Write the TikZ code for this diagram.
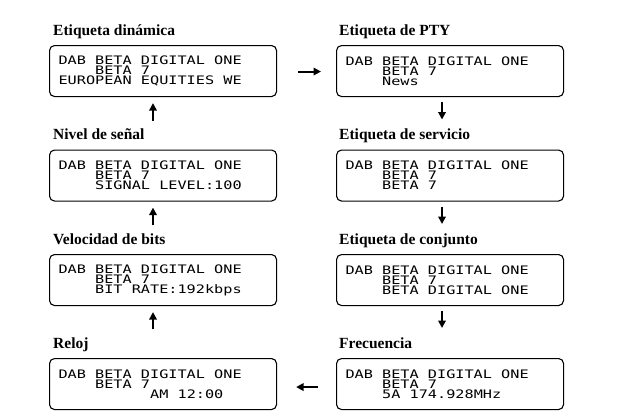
\documentclass[tikz,border=0pt]{standalone}
\usepackage{fontspec}
\setmainfont{Liberation Serif}
\newfontfamily\lcdfont[FakeStretch=1.3]{DejaVu Sans Mono}
\usetikzlibrary{arrows.meta,calc}
% blank columns on the display
\newcommand\cols[1]{\hphantom{#1}}
% one blank column between words
\newcommand\blank{\hphantom{0}}
\begin{document}
\begin{tikzpicture}[x=1pt,y=-1pt,
  lcd/.style={draw, line width=1.1pt, rounded corners=5pt, anchor=north west,
    minimum width=227pt, minimum height=51pt, text width=209pt,
    inner xsep=9pt, inner ysep=0pt, align=left,
    font=\lcdfont\fontsize{11.7}{10}\selectfont},
  heading/.style={anchor=base west, inner sep=0pt,
    font=\bfseries\fontsize{15.5}{18}\selectfont},
  flow/.style={-{Triangle[length=7.5pt,width=7.5pt]}, line width=2pt}]
\useasboundingbox (0,0) rectangle (617,415);

% left column (read bottom to top)
\node[heading] (h1) at (53,35) {Etiqueta dinámica};
\node[lcd] (d1) at (49,45) {DAB\blank BETA\blank DIGITAL\blank ONE\\
  \cols{0000}BETA\blank 7\\
  EUROPEAN\blank EQUITIES\blank WE};
\node[heading] (h2) at (53,139.5) {Nivel de señal};
\node[lcd] (d2) at (49,149.5) {DAB\blank BETA\blank DIGITAL\blank ONE\\
  \cols{0000}BETA\blank 7\\
  \cols{0000}SIGNAL\blank LEVEL:100};
\node[heading] (h3) at (53,244) {Velocidad de bits};
\node[lcd] (d3) at (49,254) {DAB\blank BETA\blank DIGITAL\blank ONE\\
  \cols{0000}BETA\blank 7\\
  \cols{0000}BIT\blank RATE:192kbps};
\node[heading] (h4) at (53,348) {Reloj};
\node[lcd] (d4) at (49,358) {DAB\blank BETA\blank DIGITAL\blank ONE\\
  \cols{0000}BETA\blank 7\\
  \cols{0000000000}AM\blank 12:00};

% right column (read top to bottom)
\node[heading] (h5) at (339,35) {Etiqueta de PTY};
\node[lcd] (d5) at (336,45) {DAB\blank BETA\blank DIGITAL\blank ONE\\
  \cols{0000}BETA\blank 7\\
  \cols{0000}News};
\node[heading] (h6) at (339,139.5) {Etiqueta de servicio};
\node[lcd] (d6) at (336,149.5) {DAB\blank BETA\blank DIGITAL\blank ONE\\
  \cols{0000}BETA\blank 7\\
  \cols{0000}BETA\blank 7};
\node[heading] (h7) at (339,244) {Etiqueta de conjunto};
\node[lcd] (d7) at (336,254) {DAB\blank BETA\blank DIGITAL\blank ONE\\
  \cols{0000}BETA\blank 7\\
  \cols{0000}BETA\blank DIGITAL\blank ONE};
\node[heading] (h8) at (339,348) {Frecuencia};
\node[lcd] (d8) at (336,358) {DAB\blank BETA\blank DIGITAL\blank ONE\\
  \cols{0000}BETA\blank 7\\
  \cols{0000}5A\blank 174.928MHz};

% arrow end points
\coordinate (u1a) at ($(d2.north west)+(104,-29)$);
\coordinate (u1b) at ($(d1.south west)+(104,6)$);
\coordinate (u2a) at ($(d3.north west)+(104,-29)$);
\coordinate (u2b) at ($(d2.south west)+(104,6)$);
\coordinate (u3a) at ($(d4.north west)+(104,-29)$);
\coordinate (u3b) at ($(d3.south west)+(104,6)$);
\coordinate (r1a) at ($(d1.east)+(21,0.5)$);
\coordinate (r1b) at ($(d5.west)+(-15,0.5)$);
\coordinate (s1a) at ($(d5.south west)+(106,5)$);
\coordinate (s1b) at ($(d6.north west)+(106,-30)$);
\coordinate (s2a) at ($(d6.south west)+(106,5)$);
\coordinate (s2b) at ($(d7.north west)+(106,-30)$);
\coordinate (s3a) at ($(d7.south west)+(106,5)$);
\coordinate (s3b) at ($(d8.north west)+(106,-30)$);
\coordinate (l1a) at ($(d8.west)+(-18,3)$);
\coordinate (l1b) at ($(d4.east)+(19,3)$);

\draw[flow] (u1a) -- (u1b);
\draw[flow] (u2a) -- (u2b);
\draw[flow] (u3a) -- (u3b);
\draw[flow] (r1a) -- (r1b);
\draw[flow] (s1a) -- (s1b);
\draw[flow] (s2a) -- (s2b);
\draw[flow] (s3a) -- (s3b);
\draw[flow] (l1a) -- (l1b);
\end{tikzpicture}
\end{document}
